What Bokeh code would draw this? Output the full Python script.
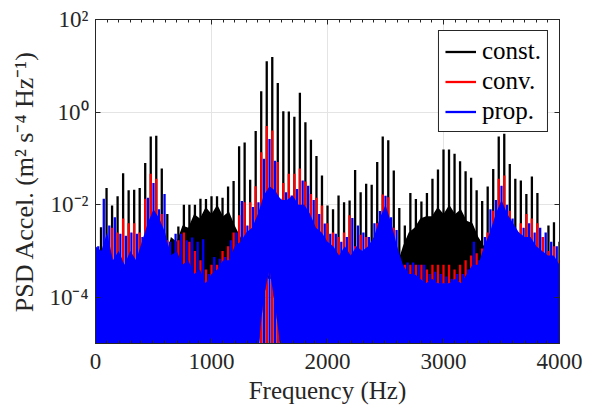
from bokeh.plotting import figure
from bokeh.models import (Range1d, FixedTicker, LinearAxis, LogAxis, Legend, LegendItem,
                          CustomJSTickFormatter, ColumnDataSource)
from bokeh.embed import file_html
from bokeh.resources import INLINE

# ---------------- data (log10 of PSD) ----------------
LINE_SPACING_HZ = 1000 / 21          # spacing of the spectral lines
N_LINES = 84

# upper edge of the dense (solid-looking) part of each spectrum, every 50 Hz
floor_freqs = list(range(0, 4001, 50))
const_floor = [-3.6, -3.6, -3.6, -3.6, -3.6, -3.6, -3.6, -3.6, -3.6, -3.6,
               -3.6, -3.6, -3.2, -2.7, -2.8, -2.45, -2.5, -2.2, -2.3, -2.05,
               -2.2, -2.0, -2.25, -2.15, -2.45, -2.7, -3.0, -3.3, -3.6, -3.6,
               -3.6, -3.6, -3.6, -3.6, -3.6, -3.6, -3.6, -3.6, -3.6, -3.6,
               -3.6, -3.6, -3.6, -3.6, -3.6, -3.6, -3.6, -3.6, -3.6, -3.6,
               -3.6, -3.6, -3.3, -2.9, -2.6, -2.5, -2.3, -2.25, -2.25, -2.05,
               -2.2, -2.0, -2.2, -2.1, -2.35, -2.4, -2.7, -2.9, -3.2, -3.6,
               -3.6, -3.6, -3.6, -3.6, -3.6, -3.6, -3.6, -3.6, -3.6, -3.6, -3.6]
conv_floor = [-3.0, -3.1, -2.8, -3.3, -3.1, -3.4, -3.1, -3.3, -2.9, -2.5,
              -2.2, -2.4, -2.7, -3.2, -3.1, -3.4, -3.3, -3.6, -3.5, -3.8,
              -3.6, -3.5, -3.3, -3.3, -3.0, -2.9, -2.7, -2.6, -2.3, -1.9,
              -1.7, -1.8, -2.0, -2.0, -1.9, -2.1, -2.1, -2.3, -2.6, -2.7,
              -2.9, -3.0, -3.2, -3.0, -3.2, -3.0, -3.1, -3.0, -2.8, -2.4,
              -2.1, -2.5, -3.0, -3.4, -3.5, -3.5, -3.6, -3.7, -3.6, -3.7,
              -3.7, -3.7, -3.6, -3.7, -3.5, -3.4, -3.4, -3.0, -2.7, -2.3,
              -2.0, -2.3, -2.5, -2.7, -2.8, -2.8, -3.0, -3.1, -3.2, -3.2, -3.4]
prop_floor = [-2.9, -3.0, -2.6, -3.2, -3.0, -3.3, -3.0, -3.2, -2.8, -2.4,
              -2.1, -2.3, -2.6, -3.1, -3.0, -3.3, -3.2, -3.5, -3.4, -3.7,
              -3.5, -3.4, -3.2, -3.2, -2.9, -2.8, -2.6, -2.5, -2.2, -1.8,
              -1.6, -1.7, -1.9, -1.9, -1.8, -2.0, -2.0, -2.2, -2.5, -2.6,
              -2.8, -2.9, -3.1, -2.9, -3.1, -2.9, -3.0, -2.9, -2.7, -2.3,
              -2.0, -2.4, -2.9, -3.3, -3.5, -3.5, -3.6, -3.7, -3.6, -3.7,
              -3.7, -3.7, -3.6, -3.7, -3.5, -3.3, -3.3, -2.9, -2.6, -2.2,
              -1.9, -2.2, -2.4, -2.6, -2.7, -2.7, -2.9, -3.0, -3.1, -3.1, -3.3]
# lower edge of the dense part (deep narrow dips of all three spectra), every 50 Hz
dip_floor = [-7.0, -7.0, -7.0, -7.0, -7.0, -7.0, -7.0, -7.0, -7.0, -4.8,
             -7.0, -7.0, -7.0, -7.0, -7.0, -7.0, -7.0, -7.0, -7.0, -7.0,
             -7.0, -7.0, -7.0, -7.0, -7.0, -7.0, -7.0, -7.0, -5.2, -4.0,
             -3.4, -4.2, -5.2, -7.0, -7.0, -7.0, -7.0, -7.0, -7.0, -7.0,
             -7.0, -7.0, -7.0, -7.0, -7.0, -7.0, -7.0, -7.0, -7.0, -7.0,
             -7.0, -7.0, -7.0, -7.0, -7.0, -7.0, -7.0, -7.0, -7.0, -7.0,
             -7.0, -7.0, -7.0, -7.0, -7.0, -7.0, -7.0, -7.0, -7.0, -7.0,
             -7.0, -7.0, -7.0, -7.0, -7.0, -7.0, -7.0, -7.0, -7.0, -7.0, -7.0]

# line peaks: const. and conv. at n*spacing (n=1..84), prop. at (n+0.5)*spacing (n=0..83)
const_peaks = [-2.49, -1.64, -2.02, -1.82, -1.32, -1.69, -1.68, -1.64, -1.10, -0.53,
               -0.51, -1.22, -2.20, -2.77, -2.47, -2.00, -2.00, -2.00, -1.87, -1.88,
               -1.82, -1.82, -1.85, -1.61, -1.49, -0.74, -0.66, -1.46, -0.41, 0.45,
               1.10, 1.19, 0.63, 0.02, 0.01, -0.10, 0.42, -0.22, -0.60, -0.95,
               -1.37, -2.02, -2.10, -1.80, -1.95, -1.91, -1.25, -1.73, -1.55, -1.57,
               -1.08, -0.53, -0.61, -1.26, -2.07, -2.45, -1.75, -1.88, -1.93, -1.75,
               -1.44, -1.24, -0.81, -0.81, -0.90, -1.06, -1.28, -1.42, -1.69, -1.92,
               -1.61, -1.23, -0.53, -0.47, -1.12, -1.44, -1.48, -1.77, -1.39, -1.75,
               -2.70, -2.45, -2.38, -2.80]
conv_peaks = [-3.0, -2.9, -2.5, -2.6, -2.3, -2.4, -2.4, -2.6, -1.87, -1.33,
              -1.44, -2.2, -2.77, -3.1, -2.77, -2.6, -2.8, -3.0, -3.2, -3.4,
              -3.3, -3.3, -3.0, -2.9, -2.6, -2.23, -1.95, -1.95, -1.6, -0.87,
              -0.30, -0.40, -1.08, -1.53, -1.33, -1.33, -1.22, -1.5, -1.77, -1.85,
              -2.02, -2.4, -2.6, -2.7, -2.6, -2.23, -2.9, -2.65, -2.7, -3.0,
              -2.40, -1.78, -1.84, -2.5, -3.24, -3.3, -3.3, -3.3, -3.3, -3.4,
              -3.3, -3.3, -3.3, -3.3, -3.4, -3.3, -3.2, -3.1, -3.05, -2.95,
              -2.6, -2.13, -1.44, -1.37, -2.13, -2.6, -2.4, -2.2, -2.3, -2.4,
              -2.7, -3.0, -2.9, -3.2]
prop_peaks = [-2.9, -1.87, -2.45, -2.27, -2.63, -2.67, -2.6, -2.63, -2.70, -1.85,
              -1.53, -2.1, -1.77, -2.8, -2.63, -2.63, -2.77, -2.71, -2.8, -2.75,
              -3.5, -3.13, -3.17, -3.13, -2.77, -2.6, -1.92, -2.45, -2.05, -1.95,
              -1.01, -0.58, -1.05, -1.87, -1.73, -1.8, -1.66, -1.48, -1.59, -1.9,
              -2.2, -2.41, -2.63, -2.63, -2.8, -2.7, -2.29, -2.45, -2.6, -2.7,
              -2.4, -2.14, -1.81, -2.27, -2.55, -3.30, -3.25, -3.25, -3.3, -3.3,
              -3.5, -3.45, -3.5, -3.55, -3.6, -3.5, -3.5, -3.4, -2.8, -3.2,
              -2.7, -2.1, -1.9, -1.59, -2.0, -2.3, -2.6, -2.5, -2.4, -2.6,
              -2.5, -2.6, -2.8, -2.9]

series_names = ["const.", "conv.", "prop."]
series_colors = ["#000000", "#ff0000", "#0000ff"]

x_ticks = [0, 1000, 2000, 3000, 4000]
y_ticks = [1e-4, 1e-2, 1e0, 1e2]

# ---------------- figure ----------------
INK = "#262626"
FONT = "Liberation Serif"

p = figure(frame_width=464, frame_height=324,
           min_border_left=95, min_border_right=34, min_border_top=19, min_border_bottom=69,
           x_range=Range1d(0, 4000), y_range=Range1d(1e-5, 1e2), y_axis_type="log",
           output_backend="svg", toolbar_location=None,
           background_fill_color="white", border_fill_color="white",
           outline_line_color=INK, outline_line_width=1)

line_pos = {
    "const.": [n * LINE_SPACING_HZ for n in range(1, N_LINES + 1)],
    "conv.": [n * LINE_SPACING_HZ for n in range(1, N_LINES + 1)],
    "prop.": [(n + 0.5) * LINE_SPACING_HZ for n in range(0, N_LINES)],
}
floors = {"const.": const_floor, "conv.": conv_floor, "prop.": prop_floor}
peaks = {"const.": const_peaks, "conv.": conv_peaks, "prop.": prop_peaks}

legend_items = []
for name, color in zip(series_names, series_colors):
    p.varea(x=floor_freqs, y1=[10 ** v for v in dip_floor],
            y2=[10 ** v for v in floors[name]],
            fill_color=color, fill_alpha=1.0)
    src = ColumnDataSource(dict(x=line_pos[name],
                                top=[10 ** v for v in peaks[name]],
                                bot=[1e-7] * len(peaks[name])))
    r = p.segment(x0="x", y0="bot", x1="x", y1="top", source=src,
                  line_color=color, line_width=2.3, line_cap="butt")
    legend_items.append(LegendItem(label=name, renderers=[r]))

# ---------------- axes ----------------
sup_js = """
const e = Math.round(Math.log10(tick));
const sup = {'-':'\u207b','0':'\u2070','1':'\u00b9','2':'\u00b2','3':'\u00b3','4':'\u2074',
             '5':'\u2075','6':'\u2076','7':'\u2077','8':'\u2078','9':'\u2079'};
return '10' + String(e).split('').map(c => sup[c]).join('');
"""

def style_axis(ax):
    ax.axis_line_color = INK
    ax.major_tick_line_color = INK
    ax.minor_tick_line_color = INK
    ax.major_tick_in = 5
    ax.major_tick_out = 0
    ax.minor_tick_in = 3
    ax.minor_tick_out = 0
    ax.major_label_text_font = FONT
    ax.major_label_text_color = INK
    ax.axis_label_text_font = FONT
    ax.axis_label_text_color = INK
    ax.axis_label_text_font_style = "normal"

xt = FixedTicker(ticks=x_ticks, minor_ticks=list(range(0, 4001, 100)))
yt = FixedTicker(ticks=y_ticks, minor_ticks=[])

xa = p.xaxis[0]
style_axis(xa)
xa.ticker = xt
xa.major_label_text_font_size = "23px"
xa.major_label_standoff = 10
xa.axis_label = "Frequency (Hz)"
xa.axis_label_text_font_size = "25px"
xa.axis_label_standoff = 5

ya = p.yaxis[0]
style_axis(ya)
ya.ticker = yt
ya.formatter = CustomJSTickFormatter(code=sup_js)
ya.major_label_text_font_size = "23px"
ya.major_label_standoff = 7
ya.axis_label = "PSD Accel. (m\u00b2 s\u207b\u2074 Hz\u207b\u00b9)"
ya.axis_label_text_font_size = "26px"
ya.axis_label_standoff = 7

top = LinearAxis(ticker=xt)
style_axis(top)
top.major_label_text_font_size = "1px"
top.major_label_text_alpha = 0
top.major_label_standoff = 0
p.add_layout(top, "above")

right = LogAxis(ticker=yt)
style_axis(right)
right.major_label_text_font_size = "1px"
right.major_label_text_alpha = 0
right.major_label_standoff = 0
p.add_layout(right, "right")

p.xgrid.ticker = FixedTicker(ticks=[1000, 2000, 3000])
p.ygrid.ticker = FixedTicker(ticks=[1e-4, 1e-2, 1e0])
p.xgrid.grid_line_color = "#e4e4e4"
p.ygrid.grid_line_color = "#e4e4e4"

legend = Legend(items=legend_items, location="top_right",
                border_line_color=INK, border_line_width=1, border_line_alpha=1,
                background_fill_color="white", background_fill_alpha=1,
                label_text_font=FONT, label_text_font_size="25px", label_text_color="#000000",
                glyph_width=31, glyph_height=27, label_height=27, spacing=2,
                padding=6, margin=11, label_standoff=6)
p.add_layout(legend)

open("out.html", "w").write(file_html(p, INLINE))
